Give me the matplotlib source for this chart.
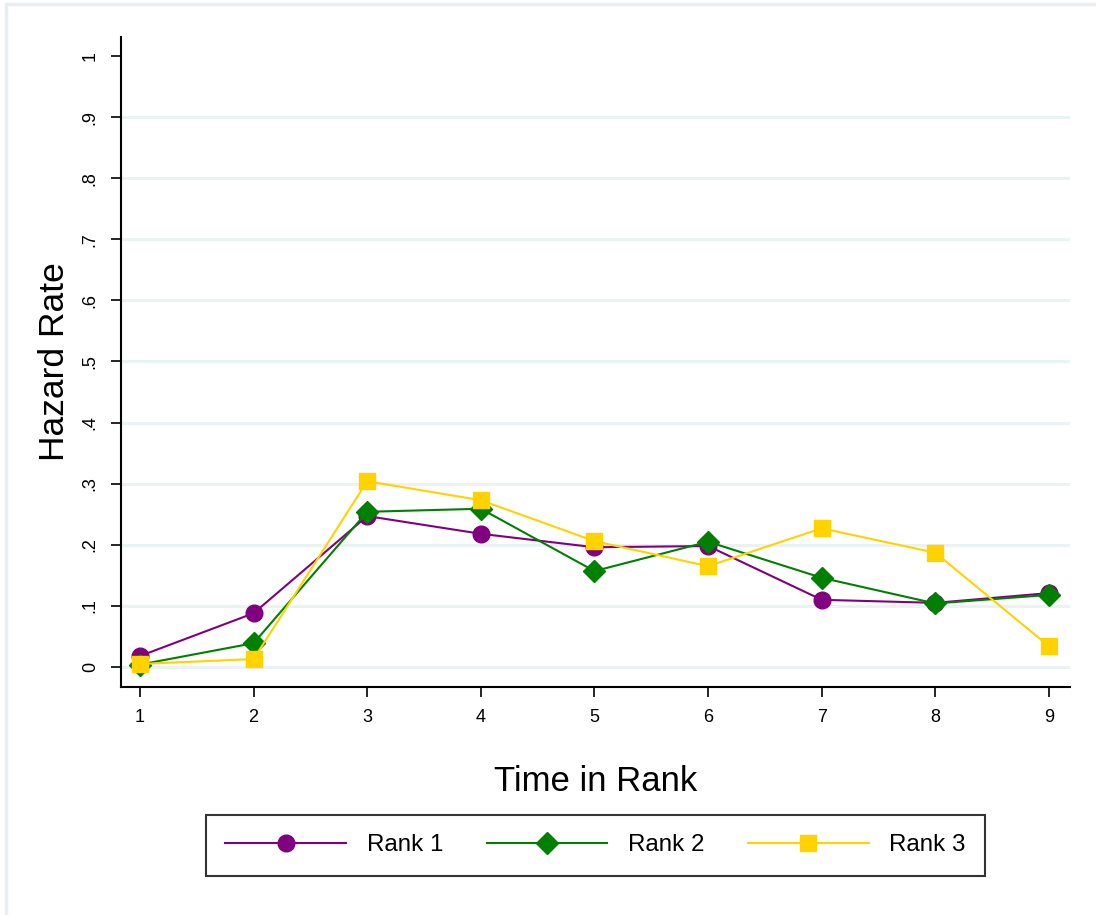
import matplotlib
matplotlib.use("Agg")
import matplotlib.pyplot as plt
from matplotlib.patches import Rectangle

plt.rcParams["font.family"] = ["Liberation Sans", "DejaVu Sans"]

time_in_rank = [1, 2, 3, 4, 5, 6, 7, 8, 9]
rank1 = [0.018, 0.088, 0.247, 0.218, 0.196, 0.198, 0.110, 0.105, 0.121]
rank2 = [0.004, 0.039, 0.254, 0.259, 0.157, 0.205, 0.146, 0.104, 0.118]
rank3 = [0.005, 0.013, 0.304, 0.273, 0.206, 0.165, 0.227, 0.187, 0.034]
y_ticks = [0, 0.1, 0.2, 0.3, 0.4, 0.5, 0.6, 0.7, 0.8, 0.9, 1.0]
y_labels = ["0", ".1", ".2", ".3", ".4", ".5", ".6", ".7", ".8", ".9", "1"]

W, H = 1096, 915
fig = plt.figure(figsize=(W / 100, H / 100), dpi=100)

# light outer frame of the graph region (right/bottom edges fall outside the image)
fig.patches.append(Rectangle((5.5 / W, -0.1), 1.2, 1.1 - 4.5 / H, transform=fig.transFigure,
                             fill=False, edgecolor="#e8eef2", linewidth=2.5))

ax = fig.add_axes([121 / W, 1 - 687 / H, (1070 - 121) / W, (687 - 37) / H])

ax.plot(time_in_rank, rank1, color="#800080", lw=1.5, marker="o", ms=12, label="Rank 1", zorder=3)
ax.plot(time_in_rank, rank2, color="#008000", lw=1.5, marker="D", ms=11.5, label="Rank 2", zorder=4)
ax.plot(time_in_rank, rank3, color="#FFD200", lw=1.5, marker="s", ms=12, label="Rank 3", zorder=5)

ax.set_xlim(0.833, 9.185)
ax.set_ylim(-0.0327, 1.031)
ax.set_xticks(time_in_rank)
ax.set_yticks(y_ticks)
ax.set_yticklabels(y_labels, rotation=90, va="center")

for y in y_ticks[:-1]:
    ax.axhline(y, color="#eaf2f3", lw=2.2, zorder=1)

for side in ("top", "right"):
    ax.spines[side].set_visible(False)
for side in ("left", "bottom"):
    ax.spines[side].set_linewidth(1.5)
ax.tick_params(axis="both", length=7, width=1.2, labelsize=13, pad=9)

ax.set_xlabel("Time in Rank", fontsize=25, labelpad=28)
ax.set_ylabel("Hazard Rate", fontsize=25.5, labelpad=8)

leg = ax.legend(loc="upper center", bbox_to_anchor=(0.5, -0.197), ncol=3, fontsize=17.4,
                frameon=True, fancybox=False, edgecolor="black", handlelength=5.0,
                columnspacing=1.8, handletextpad=0.85, borderpad=0.8, borderaxespad=0)
leg.get_frame().set_linewidth(1.5)

fig.savefig("out.png", dpi=100, facecolor="white")
